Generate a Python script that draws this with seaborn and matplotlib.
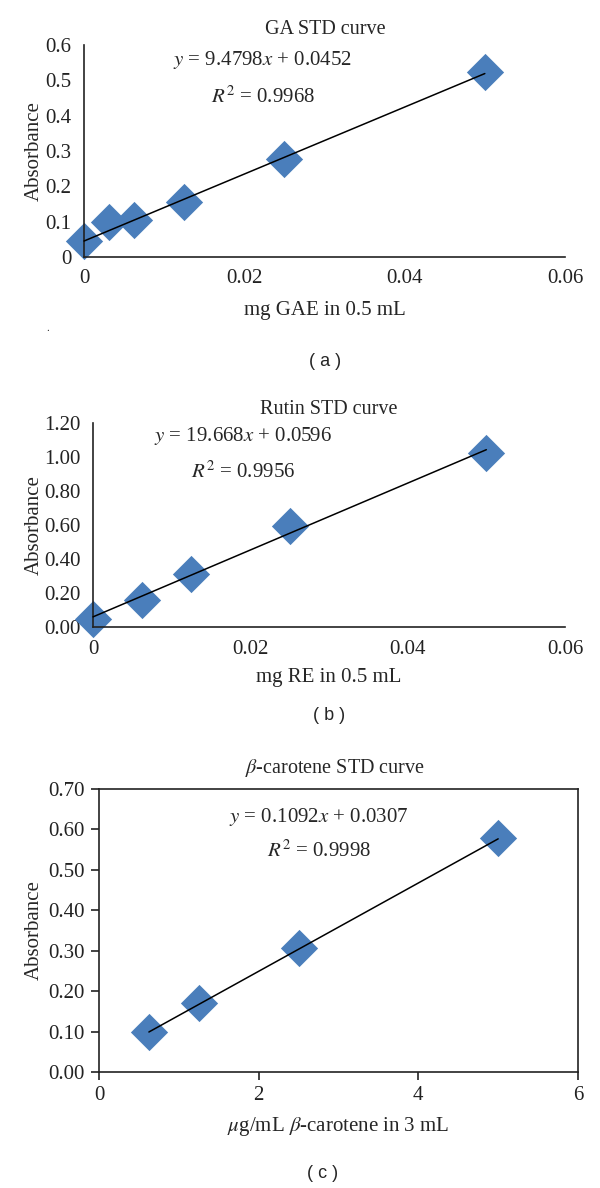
import numpy as np
import matplotlib
matplotlib.use("Agg")
import matplotlib.pyplot as plt
import seaborn as sns

# panel (a) gallic acid
ga_x = [0.0, 0.003125, 0.00625, 0.0125, 0.025, 0.05]
ga_y = [0.045, 0.098, 0.104, 0.156, 0.277, 0.523]
ga_slope, ga_icpt, ga_r2 = 9.4798, 0.0452, 0.9968
ga_yticks = [0, 0.1, 0.2, 0.3, 0.4, 0.5, 0.6]
ga_ylabels = ["0", "0.1", "0.2", "0.3", "0.4", "0.5", "0.6"]
ga_xticks = [0, 0.02, 0.04, 0.06]
ga_xlabels = ["0", "0.02", "0.04", "0.06"]

# panel (b) rutin
ru_x = [0.0, 0.00625, 0.0125, 0.025, 0.05]
ru_y = [0.049, 0.161, 0.311, 0.594, 1.023]
ru_slope, ru_icpt, ru_r2 = 19.668, 0.0596, 0.9956
ru_yticks = [0, 0.2, 0.4, 0.6, 0.8, 1.0, 1.2]
ru_ylabels = ["0.00", "0.20", "0.40", "0.60", "0.80", "1.00", "1.20"]
ru_xticks = [0, 0.02, 0.04, 0.06]
ru_xlabels = ["0", "0.02", "0.04", "0.06"]

# panel (c) beta-carotene
bc_x = [0.625, 1.25, 2.5, 5.0]
bc_y = [0.099, 0.171, 0.307, 0.578]
bc_slope, bc_icpt, bc_r2 = 0.1092, 0.0307, 0.9998
bc_yticks = [0, 0.1, 0.2, 0.3, 0.4, 0.5, 0.6, 0.7]
bc_ylabels = ["0.00", "0.10", "0.20", "0.30", "0.40", "0.50", "0.60", "0.70"]
bc_xticks = [0, 2, 4, 6]
bc_xlabels = ["0", "2", "4", "6"]

sns.set_style("white")
plt.rcParams["font.family"] = ["Liberation Serif", "DejaVu Serif"]
plt.rcParams["mathtext.fontset"] = "stix"

BLUE = "#4a7ebb"
W, H = 600, 1188
fig = plt.figure(figsize=(6, 11.88), dpi=100)


def px_axes(left, right, top, bottom):
    return fig.add_axes([left / W, 1 - bottom / H, (right - left) / W, (bottom - top) / H])


def draw_panel(ax, xs, ys, slope, icpt, xticks, xlabels, yticks, ylabels, xlabel, boxed):
    sns.scatterplot(x=xs, y=ys, ax=ax, marker="D", s=360, color=BLUE,
                    linewidth=0, clip_on=False, zorder=2)
    lx = np.array([min(xs), max(xs)])
    ax.plot(lx, slope * lx + icpt, color="black", lw=1.1, zorder=3, clip_on=False)
    ax.set_xlim(xticks[0], xticks[-1])
    ax.set_ylim(yticks[0], yticks[-1])
    ax.set_xticks(xticks)
    ax.set_xticklabels(xlabels)
    ax.set_yticks(yticks)
    ax.set_yticklabels(ylabels)
    ax.tick_params(labelsize=15, colors="#222222")
    for s in ax.spines.values():
        s.set_color("#222222")
        s.set_linewidth(1.2)
    if boxed:
        ax.tick_params(direction="out", length=6, width=1.2, pad=4, left=True, bottom=True)
    else:
        ax.spines["top"].set_visible(False)
        ax.spines["right"].set_visible(False)
        ax.tick_params(length=0, pad=9)
    ax.set_ylabel("Absorbance", fontsize=15)
    ax.set_xlabel(xlabel, fontsize=15)


# (a)
ax1 = px_axes(84, 565, 45, 257)
draw_panel(ax1, ga_x, ga_y, ga_slope, ga_icpt, ga_xticks, ga_xlabels,
           ga_yticks, ga_ylabels, "mg GAE in 0.5 mL", False)
ax1.yaxis.set_label_coords(-40 / 481, 0.5)
ax1.xaxis.set_label_coords(0.5, -44 / 212)
fig.text(325 / W, 1 - 30 / H, "GA STD curve", ha="center", va="center", fontsize=14.5)
fig.text(263 / W, 1 - 60 / H, rf"$y$ = {ga_slope}$x$ + {ga_icpt}", ha="center", va="center", fontsize=15)
fig.text(263 / W, 1 - 97 / H, rf"$R^2$ = {ga_r2}", ha="center", va="center", fontsize=15)
fig.text(48 / W, 1 - 328 / H, ".", ha="center", va="center", fontsize=8)
fig.text(325 / W, 1 - 362 / H, "( a )", ha="center", va="center", fontsize=13, family="Liberation Sans")

# (b)
ax2 = px_axes(93, 565, 423, 627)
draw_panel(ax2, ru_x, ru_y, ru_slope, ru_icpt, ru_xticks, ru_xlabels,
           ru_yticks, ru_ylabels, "mg RE in 0.5 mL", False)
ax2.yaxis.set_label_coords(-49 / 472, 0.5)
ax2.xaxis.set_label_coords(0.5, -41 / 204)
fig.text(329 / W, 1 - 409 / H, "Rutin STD curve", ha="center", va="center", fontsize=14.5)
fig.text(243 / W, 1 - 436 / H, rf"$y$ = {ru_slope}$x$ + {ru_icpt}", ha="center", va="center", fontsize=15)
fig.text(243 / W, 1 - 472 / H, rf"$R^2$ = {ru_r2}", ha="center", va="center", fontsize=15)
fig.text(329 / W, 1 - 716 / H, "( b )", ha="center", va="center", fontsize=13, family="Liberation Sans")

# (c)
ax3 = px_axes(99, 578, 789, 1072)
draw_panel(ax3, bc_x, bc_y, bc_slope, bc_icpt, bc_xticks, bc_xlabels,
           bc_yticks, bc_ylabels, r"$\mu$g/mL $\beta$-carotene in 3 mL", True)
ax3.yaxis.set_label_coords(-55 / 479, 0.5)
ax3.xaxis.set_label_coords(0.5, -43 / 283)
fig.text(335 / W, 1 - 768 / H, r"$\beta$-carotene STD curve", ha="center", va="center", fontsize=14.5)
fig.text(319 / W, 1 - 817 / H, rf"$y$ = {bc_slope}$x$ + {bc_icpt}", ha="center", va="center", fontsize=15)
fig.text(319 / W, 1 - 851 / H, rf"$R^2$ = {bc_r2}", ha="center", va="center", fontsize=15)
fig.text(323 / W, 1 - 1173 / H, "( c )", ha="center", va="center", fontsize=13, family="Liberation Sans")

fig.savefig("out.png", dpi=100, facecolor="white")
